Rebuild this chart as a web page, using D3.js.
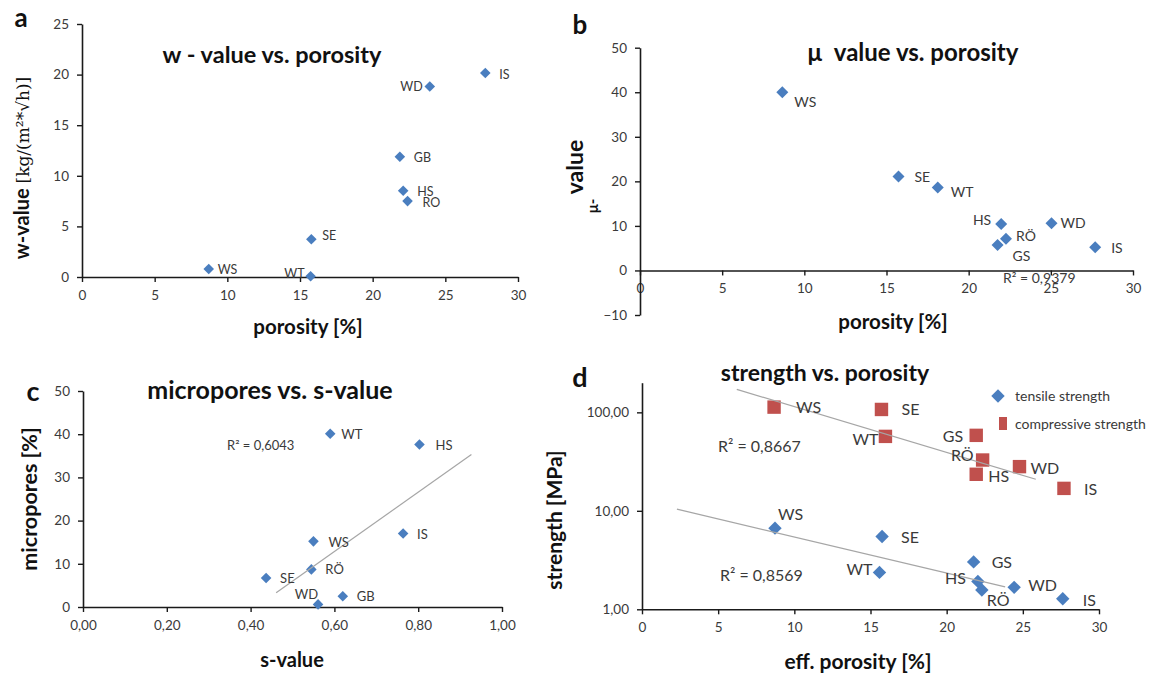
<!DOCTYPE html>
<html>
<head>
<meta charset="utf-8">
<script src="https://cdn.jsdelivr.net/npm/d3@7"></script>
<style>
  body { margin: 0; background: #fff; }
  svg text { font-family: Lato, "Open Sans", sans-serif; white-space: pre; }
</style>
</head>
<body>
<svg id="chart" width="1151" height="674"></svg>
<script>
// ---- data ----
// a: w-value vs. porosity
var aNames    = ["WS", "WT", "SE", "HS", "RO", "GB", "WD", "IS"];
var aPorosity = [8.72, 15.73, 15.78, 22.1, 22.4, 21.87, 23.93, 27.75];
var aWValue   = [0.79, 0.07, 3.73, 8.52, 7.5, 11.89, 18.82, 20.15];

// b: mu value vs. porosity
var bNames    = ["WS", "SE", "WT", "HS", "WD", "RÖ", "GS", "IS"];
var bPorosity = [8.66, 15.73, 18.12, 21.98, 25.04, 22.27, 21.76, 27.7];
var bMu       = [40.0, 21.1, 18.6, 10.4, 10.6, 7.1, 5.7, 5.2];
var bR2 = "R² = 0,9379";

// c: micropores vs. s-value
var cNames  = ["WT", "HS", "IS", "WS", "RÖ", "SE", "GB", "WD"];
var cSValue = [0.590, 0.803, 0.764, 0.550, 0.545, 0.437, 0.620, 0.561];
var cMicro  = [40.1, 37.6, 17.0, 15.2, 8.7, 6.7, 2.5, 0.6];
var cTrendX = [0.461, 0.927];
var cTrendY = [3.3, 35.3];
var cR2 = "R² = 0,6043";

// d: strength vs. porosity
var dNames       = ["WS", "SE", "WT", "GS", "RÖ", "HS", "WD", "IS"];
var dCompPor     = [8.67, 15.72, 15.98, 21.94, 22.36, 21.94, 24.78, 27.7];
var dCompressive = [113, 107, 57, 58.4, 32.8, 23.5, 28.1, 16.9];
var dTensPor     = [8.73, 15.76, 15.59, 21.77, 22.31, 22.05, 24.43, 27.62];
var dTensile     = [6.67, 5.49, 2.37, 3.03, 1.57, 1.92, 1.67, 1.28];
var dCompTrendX = [6.22, 25.85];
var dCompTrendY = [171, 20.9];
var dTensTrendX = [2.29, 23.84];
var dTensTrendY = [10.4, 1.69];
var dR2 = ["R² = 0,8667", "R² = 0,8569"];
var dLegend = ["tensile strength", "compressive strength"];

var porTicks = [0, 5, 10, 15, 20, 25, 30];

// ---- drawing ----
var blue = "#4a7ebf", red = "#c0504d", ink = "#1a1a1a", txt = "#3a3a3a";
var svg = d3.select("#chart");
var loc = d3.formatLocale({decimal: ",", thousands: ".", grouping: [3], currency: ["", ""]});
var fmt2 = loc.format(".2f");

function axes(x, y, xAt, xTicks, yTicks, xFmt, yFmt)
{
  var gx = svg.append("g").attr("transform", "translate(0," + xAt + ")")
    .call(d3.axisBottom(x).tickValues(xTicks).tickFormat(xFmt).tickSize(5).tickSizeOuter(0).tickPadding(8));
  var gy = svg.append("g").attr("transform", "translate(" + x(0) + ",0)")
    .call(d3.axisLeft(y).tickValues(yTicks).tickFormat(yFmt).tickSize(5).tickSizeOuter(0).tickPadding(8));
  [gx, gy].forEach(function(g){
    g.select(".domain").attr("stroke", ink).attr("stroke-width", 1.6);
    g.selectAll(".tick line").attr("stroke", ink).attr("stroke-width", 1.4);
    g.selectAll(".tick text").attr("fill", txt)
      .style("font-size", "13.5px").style("font-family", "Lato, sans-serif");
  });
}

function text(x, y, s, size, opts)
{
  opts = opts || {};
  var t = svg.append("text")
    .attr("x", x).attr("y", y)
    .attr("text-anchor", opts.anchor || "middle")
    .attr("fill", opts.fill || "#111")
    .style("font-size", size + "px")
    .style("font-weight", opts.bold ? "bold" : "normal")
    .text(s);
  if(opts.rotate) t.attr("transform", "rotate(-90," + x + "," + y + ")");
  return t;
}

function diamonds(xs, ys, x, y, area)
{
  svg.append("g").selectAll("path").data(xs).join("path")
    .attr("d", d3.symbol(d3.symbolSquare, area))
    .attr("transform", (d, i) => "translate(" + x(xs[i]) + "," + y(ys[i]) + ") rotate(45)")
    .attr("fill", blue);
}

function squares(xs, ys, x, y, area)
{
  svg.append("g").selectAll("path").data(xs).join("path")
    .attr("d", d3.symbol(d3.symbolSquare, area))
    .attr("transform", (d, i) => "translate(" + x(xs[i]) + "," + y(ys[i]) + ")")
    .attr("fill", red);
}

function labels(names, xs, ys, x, y, place, size)
{
  svg.append("g").selectAll("text").data(names).join("text")
    .attr("x", (d, i) => x(xs[i]) + place[d][0])
    .attr("y", (d, i) => y(ys[i]) + place[d][1])
    .attr("text-anchor", d => place[d][2] || "start")
    .attr("fill", txt)
    .style("font-size", size + "px")
    .text(d => d);
}

function trend(xs, ys, x, y)
{
  var line = d3.line().x(d => x(d[0])).y(d => y(d[1]));
  svg.append("path")
    .attr("d", line(d3.zip(xs, ys)))
    .attr("stroke", "#a6a6a6").attr("stroke-width", 1.2).attr("fill", "none");
}

// Panel a
(function(){
  var x = d3.scaleLinear().domain([0, 30]).range([82, 518]);
  var y = d3.scaleLinear().domain([0, 25]).range([277, 24]);
  axes(x, y, y(0), porTicks, [0, 5, 10, 15, 20, 25], d3.format("d"), d3.format("d"));
  diamonds(aPorosity, aWValue, x, y, 56);
  labels(aNames, aPorosity, aWValue, x, y, {
    WS: [9, 5], WT: [-6, 2, "end"], SE: [11, 1], HS: [14, 5],
    RO: [15, 6], GB: [14, 5], WD: [-7, 4, "end"], IS: [14, 6]
  }, 12.5);
  text(21, 27, "a", 26, {bold: true});
  text(272, 63, "w - value vs. porosity", 23.5, {bold: true});
  text(308, 334, "porosity [%]", 20.5, {bold: true});
  var yl = text(29, 168, "", 20, {rotate: true});
  yl.append("tspan").style("font-weight", "bold").text("w-value ");
  yl.append("tspan").style("font-family", "'DejaVu Serif', serif").style("font-size", "17px").text("[kg/(m²*√h)]");
})();

// Panel b
(function(){
  var x = d3.scaleLinear().domain([0, 30]).range([640, 1133]);
  var y = d3.scaleLinear().domain([-10, 50]).range([315, 47.7]);
  axes(x, y, y(0), porTicks, [-10, 0, 10, 20, 30, 40, 50], d3.format("d"), d3.format("d"));
  diamonds(bPorosity, bMu, x, y, 72);
  labels(bNames, bPorosity, bMu, x, y, {
    WS: [12, 15], SE: [16, 6], WT: [13, 9], HS: [-10, 1, "end"],
    WD: [9, 5], "RÖ": [10, 2], GS: [15, 16], IS: [16, 6]
  }, 14);
  text(1003, 283, bR2, 14, {anchor: "start", fill: txt});
  text(580, 34, "b", 26, {bold: true});
  text(913, 61, "μ  value vs. porosity", 24, {bold: true});
  text(893, 329, "porosity [%]", 20.5, {bold: true});
  text(583, 167, "value", 23, {bold: true, rotate: true});
  text(598, 206, "μ-", 15, {bold: true, rotate: true});
})();

// Panel c
(function(){
  var x = d3.scaleLinear().domain([0, 1]).range([83, 502]);
  var y = d3.scaleLinear().domain([0, 50]).range([607, 391]);
  axes(x, y, y(0), [0, 0.2, 0.4, 0.6, 0.8, 1], [0, 10, 20, 30, 40, 50], fmt2, d3.format("d"));
  diamonds(cSValue, cMicro, x, y, 56);
  trend(cTrendX, cTrendY, x, y);
  labels(cNames, cSValue, cMicro, x, y, {
    WT: [11, 5], HS: [16, 5], IS: [14, 5], WS: [15, 6],
    "RÖ": [14, 5], SE: [14, 5], GB: [14, 5], WD: [0, -5, "end"]
  }, 13);
  text(227, 450, cR2, 13, {anchor: "start", fill: txt});
  text(33, 401, "c", 27, {bold: true});
  text(270, 399, "micropores vs. s-value", 25, {bold: true});
  text(292, 667, "s-value", 20, {bold: true});
  text(37, 499, "micropores [%]", 21.5, {bold: true, rotate: true});
})();

// Panel d
(function(){
  var x = d3.scaleLinear().domain([0, 30]).range([642, 1099]);
  var y = d3.scaleLog().domain([1, 200]).range([609.3, 382.7]);
  axes(x, y, y(1), porTicks, [1, 10, 100], d3.format("d"), fmt2);
  squares(dCompPor, dCompressive, x, y, 180);
  diamonds(dTensPor, dTensile, x, y, 90);
  trend(dCompTrendX, dCompTrendY, x, y);
  trend(dTensTrendX, dTensTrendY, x, y);
  labels(dNames, dCompPor, dCompressive, x, y, {
    WS: [22, 6], SE: [20, 6], WT: [-7, 9, "end"], GS: [-13, 7, "end"],
    "RÖ": [-9, 1, "end"], HS: [12, 8], WD: [11, 7], IS: [20, 7]
  }, 16);
  labels(dNames, dTensPor, dTensile, x, y, {
    WS: [3, -8], SE: [19, 7], WT: [-7, 3, "end"], GS: [18, 6],
    "RÖ": [5, 16], HS: [-12, 3, "end"], WD: [14, 4], IS: [20, 7]
  }, 16);
  text(718, 452, dR2[0], 16, {anchor: "start", fill: txt});
  text(720, 581, dR2[1], 16, {anchor: "start", fill: txt});
  text(580, 387, "d", 27, {bold: true});
  text(825, 381, "strength vs. porosity", 23, {bold: true});
  text(858, 669, "eff. porosity [%]", 21, {bold: true});
  text(562, 520, "strength [MPa]", 21, {bold: true, rotate: true});

  // legend
  svg.append("path")
    .attr("d", d3.symbol(d3.symbolSquare, 90))
    .attr("transform", "translate(998,396) rotate(45)")
    .attr("fill", blue);
  svg.append("rect").attr("x", 999).attr("y", 417).attr("width", 8).attr("height", 13).attr("fill", red);
  text(1015, 400.5, dLegend[0], 14, {anchor: "start", fill: txt});
  text(1015, 428.5, dLegend[1], 14, {anchor: "start", fill: txt});
})();
</script>
</body>
</html>
